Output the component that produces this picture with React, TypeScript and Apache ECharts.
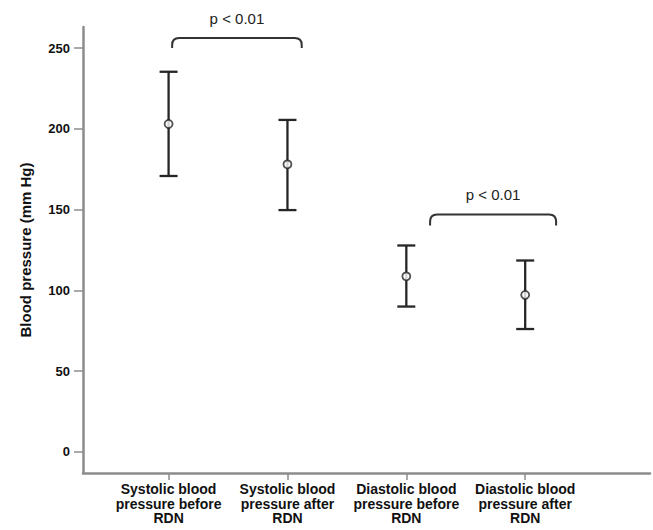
import React, { useEffect, useRef } from "react";
import * as echarts from "echarts";

const categories = [
  "Systolic blood\npressure before\nRDN",
  "Systolic blood\npressure after\nRDN",
  "Diastolic blood\npressure before\nRDN",
  "Diastolic blood\npressure after\nRDN",
];
const positions = [1, 2, 3, 4];
const means = [203, 178, 108.7, 97.2];
const upper = [235.3, 205.5, 127.8, 118.5];
const lower = [170.8, 149.7, 90, 76.1];
const yTicks = [0, 50, 100, 150, 200, 250];
// brackets: [xStart, xEnd, yTop, yEnd, label]
const brackets: [number, number, number, number, string][] = [
  [1.03, 2.12, 256.2, 250, "p < 0.01"],
  [3.2, 4.26, 147, 140.2, "p < 0.01"],
];

export default function App() {
  const ref = useRef<HTMLDivElement>(null);
  useEffect(() => {
    if (!ref.current) return;
    const chart = echarts.init(ref.current, undefined, { renderer: "svg" });
    const axisColor = "#8c8c8c";
    const ink = "#262626";
    const font = "Liberation Sans, Arial, sans-serif";
    chart.setOption({
      animation: false,
      backgroundColor: "#ffffff",
      grid: { left: 83, right: 3, top: 27, bottom: 57 },
      xAxis: {
        type: "value",
        min: 0.28,
        max: 5.05,
        splitLine: { show: false },
        axisLine: { show: true, onZero: false, lineStyle: { color: axisColor, width: 2.5 } },
        axisTick: { show: true, customValues: positions, length: 7, lineStyle: { color: axisColor, width: 1.5 } },
        axisLabel: {
          customValues: positions,
          formatter: (v: number) => categories[Math.round(v) - 1] ?? "",
          color: "#111",
          fontWeight: "bold",
          fontSize: 14,
          fontFamily: font,
          lineHeight: 14.5,
          margin: 9,
        },
      },
      yAxis: {
        type: "value",
        min: -13,
        max: 263,
        name: "Blood pressure (mm Hg)",
        nameLocation: "middle",
        nameGap: 50,
        nameRotate: 90,
        nameTextStyle: { color: "#111", fontWeight: "bold", fontSize: 15, fontFamily: font },
        splitLine: { show: false },
        axisLine: { show: true, onZero: false, lineStyle: { color: axisColor, width: 2.5 } },
        axisTick: { show: true, customValues: yTicks, length: 9, lineStyle: { color: axisColor, width: 1.5 } },
        axisLabel: {
          customValues: yTicks,
          color: "#111",
          fontWeight: "bold",
          fontSize: 13,
          fontFamily: font,
          margin: 13,
        },
      },
      series: [
        {
          type: "custom",
          data: positions.map((p, i) => [p, lower[i], upper[i]]),
          renderItem: (_params: any, api: any) => {
            const x = api.value(0);
            const lo = api.coord([x, api.value(1)]);
            const hi = api.coord([x, api.value(2)]);
            const hw = 9;
            const style = { stroke: ink, lineWidth: 2.3 };
            return {
              type: "group",
              children: [
                { type: "line", shape: { x1: lo[0], y1: lo[1], x2: hi[0], y2: hi[1] }, style },
                { type: "line", shape: { x1: hi[0] - hw, y1: hi[1], x2: hi[0] + hw, y2: hi[1] }, style },
                { type: "line", shape: { x1: lo[0] - hw, y1: lo[1], x2: lo[0] + hw, y2: lo[1] }, style },
              ],
            };
          },
          z: 2,
        },
        {
          type: "scatter",
          data: positions.map((p, i) => [p, means[i]]),
          symbol: "circle",
          symbolSize: 8,
          itemStyle: { color: "#ffffff", borderColor: ink, borderWidth: 1.8 },
          z: 3,
        },
        {
          type: "custom",
          data: brackets.map((b) => [b[0], b[1], b[2], b[3]]),
          renderItem: (params: any, api: any) => {
            const a = api.coord([api.value(0), api.value(2)]);
            const b = api.coord([api.value(1), api.value(2)]);
            const aEnd = api.coord([api.value(0), api.value(3)]);
            const r = 7;
            const d = `M${a[0]} ${aEnd[1]} L${a[0]} ${a[1] + r} Q${a[0]} ${a[1]} ${a[0] + r} ${a[1]} L${b[0] - r} ${b[1]} Q${b[0]} ${b[1]} ${b[0]} ${b[1] + r} L${b[0]} ${aEnd[1]}`;
            const label = brackets[params.dataIndex][4];
            return {
              type: "group",
              children: [
                { type: "path", shape: { pathData: d }, style: { stroke: "#333", lineWidth: 2, fill: null } },
                {
                  type: "text",
                  x: (a[0] + b[0]) / 2,
                  y: a[1] - 12,
                  style: {
                    text: label,
                    fill: "#222",
                    font: `15px ${font}`,
                    align: "center",
                    verticalAlign: "bottom",
                  },
                },
              ],
            };
          },
          z: 2,
        },
      ],
    });
    return () => chart.dispose();
  }, []);
  return (
    <div
      ref={ref}
      style={{ position: "fixed", left: 0, top: 0, width: 653, height: 530 }}
    />
  );
}
